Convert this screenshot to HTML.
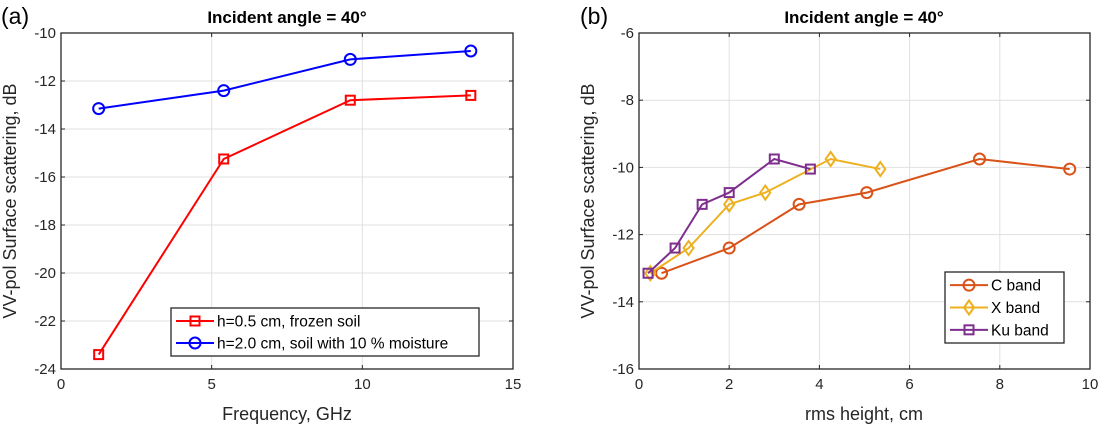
<!DOCTYPE html>
<html><head><meta charset="utf-8"><style>
body{margin:0;background:#fff}
svg{display:block;font-family:"Liberation Sans",Arial,sans-serif}
</style></head><body>
<svg id="c" width="1101" height="427"></svg>
<script>
const freq=[1.25,5.4,9.6,13.6];
const frozen=[-23.4,-15.25,-12.8,-12.6];
const moist=[-13.15,-12.4,-11.1,-10.75];
const cX=[0.5,2,3.55,5.05,7.55,9.55];
const cY=[-13.15,-12.4,-11.1,-10.75,-9.75,-10.05];
const xX=[0.25,1.1,2,2.8,4.25,5.35];
const xY=[-13.15,-12.4,-11.1,-10.75,-9.75,-10.05];
const kuX=[0.2,0.8,1.4,2,3,3.8];
const kuY=[-13.15,-12.4,-11.1,-10.75,-9.75,-10.05];
const aXT=[0,5,10,15], aYT=[-10,-12,-14,-16,-18,-20,-22,-24];
const bXT=[0,2,4,6,8,10], bYT=[-6,-8,-10,-12,-14,-16];

const svg=document.getElementById('c');const NS='http://www.w3.org/2000/svg';
function el(t,a,p){const e=document.createElementNS(NS,t);for(const k in a)e.setAttribute(k,a[k]);(p||svg).appendChild(e);return e;}
function txt(x,y,s,a,p){const e=el('text',Object.assign({x:x,y:y},a),p);e.textContent=s;return e;}
function axes(o){
 const sx=v=>o.x0+(v-o.xmin)/(o.xmax-o.xmin)*(o.x1-o.x0);
 const sy=v=>o.y1-(v-o.ymin)/(o.ymax-o.ymin)*(o.y1-o.y0);
 const g=el('g',{});
 
 
 o.xt.forEach(v=>{const x=sx(v);
  const l=el('line',{x1:x,x2:x,y1:o.y0,y2:o.y1,stroke:'#e0e0e0','stroke-width':1},g);
  
  el('line',{x1:x,x2:x,y1:o.y1,y2:o.y1-4,stroke:'#262626'},g);el('line',{x1:x,x2:x,y1:o.y0,y2:o.y0+4,stroke:'#262626'},g);
  const t=txt(x,o.y1+20,v,{'font-size':15,fill:'#262626','text-anchor':'middle'},g);});
 o.yt.forEach(v=>{const y=sy(v);
  const l=el('line',{x1:o.x0,x2:o.x1,y1:y,y2:y,stroke:'#e0e0e0','stroke-width':1},g);
  
  el('line',{x1:o.x0,x2:o.x0+4,y1:y,y2:y,stroke:'#262626'},g);el('line',{x1:o.x1,x2:o.x1-4,y1:y,y2:y,stroke:'#262626'},g);
  const t=txt(o.x0-5,y+5,v,{'font-size':15,fill:'#262626','text-anchor':'end'},g);});
 const b=el('rect',{x:o.x0,y:o.y0,width:o.x1-o.x0,height:o.y1-o.y0,fill:'none',stroke:'#262626','stroke-width':1.3},g);
 
 return {sx,sy,g};
}
function marker(g,type,x,y,c){
 if(type==='o')return el('circle',{cx:x,cy:y,r:5.5,fill:'none',stroke:c,'stroke-width':2},g);
 if(type==='s')return el('rect',{x:x-4.5,y:y-4.5,width:9,height:9,fill:'none',stroke:c,'stroke-width':2},g);
 return el('path',{d:`M${x} ${y-7}L${x+5} ${y}L${x} ${y+7}L${x-5} ${y}Z`,fill:'none',stroke:c,'stroke-width':2},g);
}
function series(A,xs,ys,c,m,name){
 const g=el('g',{},A.g);
 
 
 el('polyline',{points:xs.map((x,i)=>A.sx(x)+','+A.sy(ys[i])).join(' '),fill:'none',stroke:c,'stroke-width':2},g);
 xs.forEach((x,i)=>{const mk=marker(g,m,A.sx(x),A.sy(ys[i]),c);});
}
function legend(x,y,w,h,items,fs){
 const g=el('g',{});
 
 
 el('rect',{x:x,y:y,width:w,height:h,fill:'#fff',stroke:'#262626','stroke-width':1.3},g);
 const step=(h-4)/items.length;
 items.forEach((it,i)=>{const yy=y+2+step*(i+0.5);
  const e=el('g',{},g);
  el('line',{x1:x+5,x2:x+43,y1:yy,y2:yy,stroke:it[1],'stroke-width':2},e);
  marker(e,it[2],x+24,yy,it[1]);
  txt(x+46,yy+5.5,it[0],{'font-size':fs,fill:'#000'},e);});
}
// Panel a
const A=axes({name:'panel-a',x0:61,x1:513,y0:33,y1:369,xmin:0,xmax:15,ymin:-24,ymax:-10,xt:aXT,yt:aYT});
series(A,freq,frozen,'#ff0000','s','series-frozen-soil');
series(A,freq,moist,'#0000ff','o','series-moist-soil');
legend(171,308,308,48,[['h=0.5 cm, frozen soil','#ff0000','s'],['h=2.0 cm, soil with 10 % moisture','#0000ff','o']],15.5);
// Panel b
const B=axes({name:'panel-b',x0:639,x1:1090,y0:33,y1:369,xmin:0,xmax:10,ymin:-16,ymax:-6,xt:bXT,yt:bYT});
series(B,cX,cY,'#d95319','o','series-c-band');
series(B,xX,xY,'#edb120','d','series-x-band');
series(B,kuX,kuY,'#7e2f8e','s','series-ku-band');
legend(945,272,119,71,[['C band','#d95319','o'],['X band','#edb120','d'],['Ku band','#7e2f8e','s']],15.5);
// Titles & labels
function lab(x,y,s,a,name){const t=txt(x,y,s,a);return t;}
lab(1,24,'(a)',{'font-size':23,fill:'#000'},'panel-label-a');
lab(580,24,'(b)',{'font-size':23,fill:'#000'},'panel-label-b');
lab(287,23,'Incident angle = 40°',{'font-size':17,'font-weight':'bold','text-anchor':'middle'},'title-a');
lab(864,23,'Incident angle = 40°',{'font-size':17,'font-weight':'bold','text-anchor':'middle'},'title-b');
lab(287,420,'Frequency, GHz',{'font-size':18,fill:'#262626','text-anchor':'middle'},'x-axis-title-a');
lab(864,420,'rms height, cm',{'font-size':18,fill:'#262626','text-anchor':'middle'},'x-axis-title-b');
lab(0,0,'VV-pol Surface scattering, dB',{'font-size':18,fill:'#262626','text-anchor':'middle',transform:'translate(16,201) rotate(-90)'},'y-axis-title-a');
lab(0,0,'VV-pol Surface scattering, dB',{'font-size':18,fill:'#262626','text-anchor':'middle',transform:'translate(594,201) rotate(-90)'},'y-axis-title-b');
</script>
</body></html>
